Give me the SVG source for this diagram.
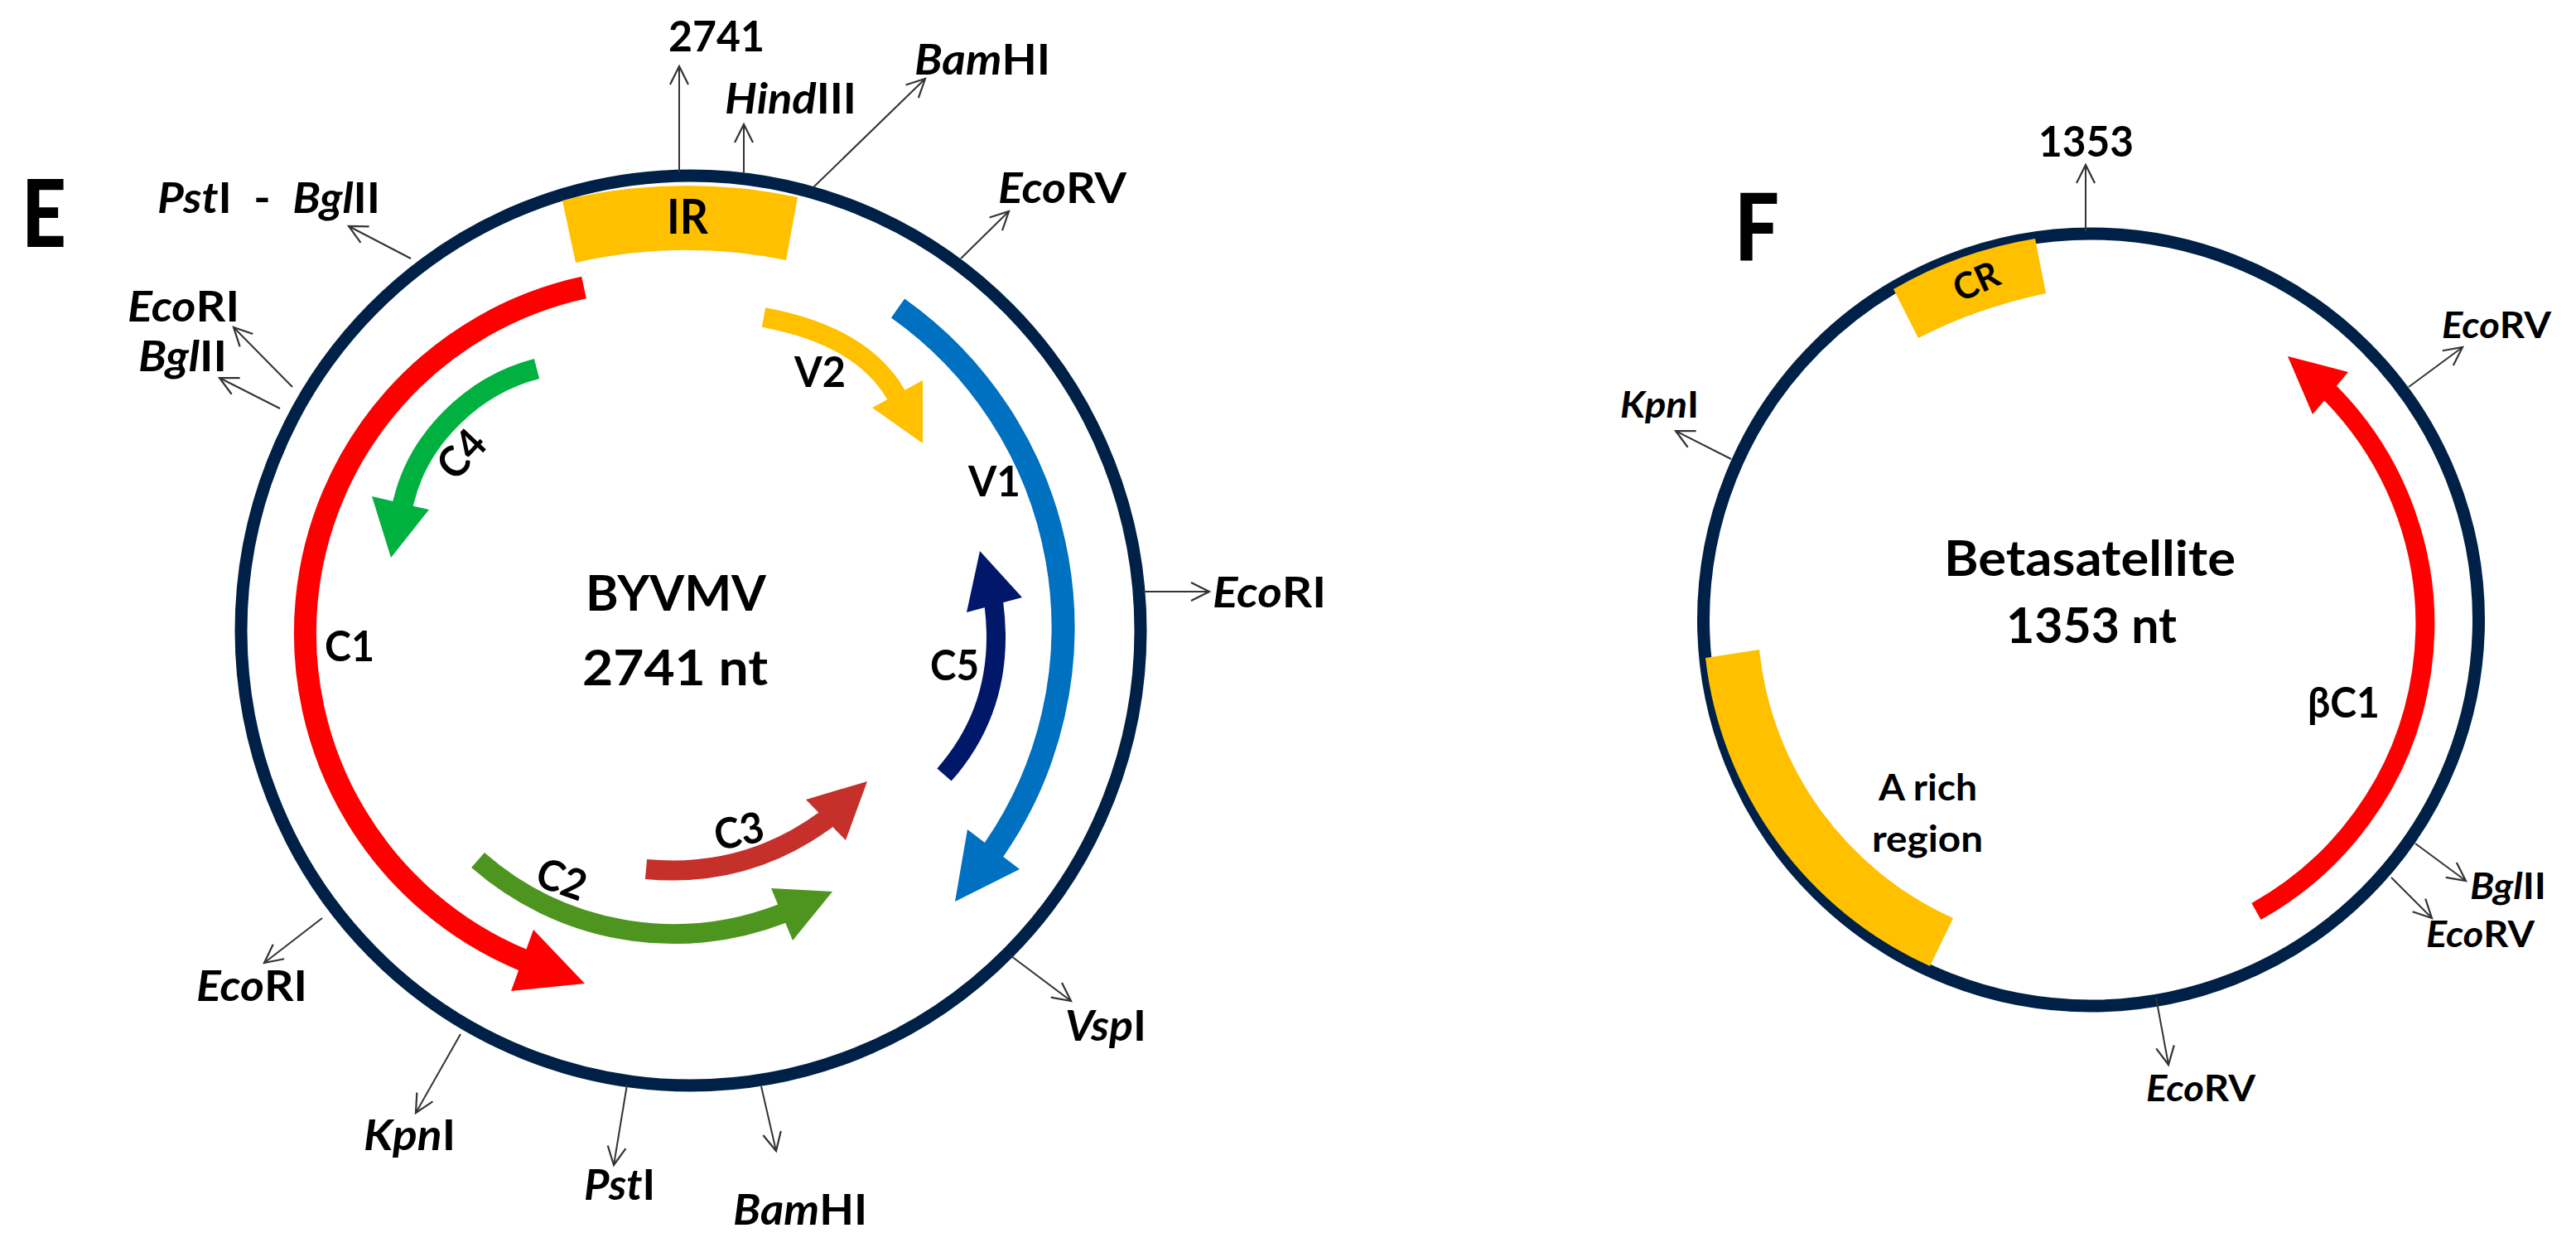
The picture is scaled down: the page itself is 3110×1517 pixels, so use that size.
<svg xmlns="http://www.w3.org/2000/svg" width="3110" height="1517" viewBox="0 0 3110 1517">
<style>
text{font-family:Lato,"Open Sans","Noto Sans",sans-serif;font-weight:700;fill:#000}
.e{font-size:51px}
.f{font-size:44px}
.c{font-size:60px}
.p{font-size:112px;font-weight:900}
.i{font-style:italic}
.ring{fill:none;stroke:#002147;stroke-width:15}
.gene{fill:none;stroke-linecap:butt;stroke-linejoin:round}
.cut{fill:none;stroke:#333;stroke-width:2;marker-end:url(#open)}
</style>
<defs>
<marker id="open" markerUnits="userSpaceOnUse" markerWidth="30" markerHeight="30" refX="24" refY="13" orient="auto">
<path d="M2,2 L24,13 L2,24" fill="none" stroke="#333" stroke-width="2.2"/>
</marker>
</defs>
<rect width="3110" height="1517" fill="#fff"/>

<g id="plasmid-E-backbone"><ellipse class="ring" cx="834" cy="761" rx="543" ry="549"/></g>
<g id="plasmid-F-backbone"><ellipse class="ring" cx="2524.5" cy="748" rx="468" ry="466"/></g>

<g id="connectors">
<path class="cut" d="M820,208 L820,80"/>
<path class="cut" d="M898,208 L898,150"/>
<path class="cut" d="M982,226 L1117,95"/>
<path class="cut" d="M1160,312 L1218,255"/>
<path class="cut" d="M496,312 L421,273"/>
<path class="cut" d="M353,467 L282,395"/>
<path class="cut" d="M338,493 L265,456"/>
<path class="cut" d="M1380,714 L1460,714"/>
<path class="cut" d="M1221,1154 L1293,1208"/>
<path class="cut" d="M919,1311 L937,1389"/>
<path class="cut" d="M757,1309 L741,1406"/>
<path class="cut" d="M556,1248 L502,1343"/>
<path class="cut" d="M389,1108 L319,1162"/>
<path class="cut" d="M2518,280 L2518,199"/>
<path class="cut" d="M2908,467 L2973,419"/>
<path class="cut" d="M2090,554 L2023,520"/>
<path class="cut" d="M2916,1018 L2977,1063"/>
<path class="cut" d="M2887,1059 L2936,1108"/>
<path class="cut" d="M2603,1204 L2618,1285"/>
</g>

<g id="IR"><path d="M679,242 Q820,208 963,238 L949,314 Q822,288 695,317 Z" fill="#FFC000"/><text class="e" style="font-size:58px" x="805" y="282" textLength="50" lengthAdjust="spacingAndGlyphs">IR</text></g>
<g id="C1"><path class="gene" stroke="#FF0000" stroke-width="27" d="M705,347 A427 427 0 0 0 630,1158 L644,1163"/><path fill="#FF0000" d="M644,1122 L706,1187 L617,1196 Z"/><text class="e" x="392" y="798" textLength="60" lengthAdjust="spacingAndGlyphs">C1</text></g>
<g id="V1"><path class="gene" stroke="#0070C0" stroke-width="28" d="M1084,372 A472 472 0 0 1 1201,1024 L1192,1036"/><path fill="#0070C0" d="M1168,1001 L1231,1049 L1153,1088 Z"/><text class="e" x="1169" y="599" textLength="63" lengthAdjust="spacingAndGlyphs">V1</text></g>
<g id="V2"><path class="gene" stroke="#FFC000" stroke-width="24" d="M922,383 Q1040,405 1081,475 L1088,488"/><path fill="#FFC000" d="M1114,459 L1114,535 L1053,492 Z"/><text class="e" x="959" y="467" textLength="62" lengthAdjust="spacingAndGlyphs">V2</text></g>
<g id="C4"><path class="gene" stroke="#00B140" stroke-width="25" d="M648,445 C570,465 505,530 487,606 L484,620"/><path fill="#00B140" d="M449,599 L518,615 L472,673 Z"/><text class="e" transform="translate(557,548) rotate(-47)" x="-30" y="18" textLength="60" lengthAdjust="spacingAndGlyphs">C4</text></g>
<g id="C5"><path class="gene" stroke="#00176A" stroke-width="23" d="M1140,935 Q1215,850 1200,730 L1196,716"/><path fill="#00176A" d="M1183,665 L1234,721 L1167,739 Z"/><text class="e" x="1123" y="821" textLength="59" lengthAdjust="spacingAndGlyphs">C5</text></g>
<g id="C3"><path class="gene" stroke="#C5302B" stroke-width="24" d="M780,1049 Q900,1060 996,990 L1007,979"/><path fill="#C5302B" d="M973,965 L1047,943 L1021,1014 Z"/><text class="e" transform="translate(892,1003) rotate(-12)" x="-30" y="18" textLength="60" lengthAdjust="spacingAndGlyphs">C3</text></g>
<g id="C2"><path class="gene" stroke="#4E9520" stroke-width="24" d="M577,1038 A359 359 0 0 0 943,1103 L957,1097"/><path fill="#4E9520" d="M931,1072 L1005,1076 L957,1135 Z"/><text class="e" transform="translate(678,1061) rotate(20)" x="-30" y="18" textLength="60" lengthAdjust="spacingAndGlyphs">C2</text></g>
<g id="label-E"><text class="p" x="26" y="298" textLength="54" lengthAdjust="spacingAndGlyphs">E</text></g>
<g id="title-E">
<text class="c" x="707" y="737" textLength="218" lengthAdjust="spacingAndGlyphs">BYVMV</text>
<text class="c" x="703" y="827" textLength="224" lengthAdjust="spacingAndGlyphs">2741 nt</text>
</g>
<g id="sites-E">
<text class="e" x="807" y="62" textLength="116" lengthAdjust="spacingAndGlyphs">2741</text>
<text class="e" x="875" y="137" textLength="159" lengthAdjust="spacingAndGlyphs"><tspan class="i">Hind</tspan>III</text>
<text class="e" x="1104" y="90" textLength="164" lengthAdjust="spacingAndGlyphs"><tspan class="i">Bam</tspan>HI</text>
<text class="e" x="1205" y="245" textLength="155" lengthAdjust="spacingAndGlyphs"><tspan class="i">Eco</tspan>RV</text>
<text class="e" x="190" y="257" textLength="269" lengthAdjust="spacingAndGlyphs" xml:space="preserve"><tspan class="i">Pst</tspan>I  -  <tspan class="i">Bgl</tspan>II</text>
<text class="e" x="154" y="388" textLength="135" lengthAdjust="spacingAndGlyphs"><tspan class="i">Eco</tspan>RI</text>
<text class="e" x="167" y="448" textLength="107" lengthAdjust="spacingAndGlyphs"><tspan class="i">Bgl</tspan>II</text>
<text class="e" x="1464" y="733" textLength="137" lengthAdjust="spacingAndGlyphs"><tspan class="i">Eco</tspan>RI</text>
<text class="e" x="237" y="1208" textLength="134" lengthAdjust="spacingAndGlyphs"><tspan class="i">Eco</tspan>RI</text>
<text class="e" x="439" y="1388" textLength="111" lengthAdjust="spacingAndGlyphs"><tspan class="i">Kpn</tspan>I</text>
<text class="e" x="705" y="1448" textLength="86" lengthAdjust="spacingAndGlyphs"><tspan class="i">Pst</tspan>I</text>
<text class="e" x="885" y="1478" textLength="162" lengthAdjust="spacingAndGlyphs"><tspan class="i">Bam</tspan>HI</text>
<text class="e" x="1286" y="1256" textLength="98" lengthAdjust="spacingAndGlyphs"><tspan class="i">Vsp</tspan>I</text>
</g>

<g id="CR"><path d="M2286,349 Q2365,303 2457,288 L2470,354 Q2385,372 2316,408 Z" fill="#FFC000"/><text class="f" transform="translate(2386,340) rotate(-24)" x="-28" y="15" textLength="56" lengthAdjust="spacingAndGlyphs">CR</text></g>
<g id="A-rich-region"><path d="M2059,794 A466 466 0 0 0 2330,1166 L2358,1108 A400 400 0 0 1 2124,784 Z" fill="#FFC000"/>
<text class="f" x="2268" y="966" textLength="119" lengthAdjust="spacingAndGlyphs">A rich</text>
<text class="f" x="2260" y="1028" textLength="134" lengthAdjust="spacingAndGlyphs">region</text></g>
<g id="betaC1"><path class="gene" stroke="#FF0000" stroke-width="23" d="M2724,1100 A397 397 0 0 0 2815,476 L2804,467"/><path fill="#FF0000" d="M2762,430 L2835,449 L2792,500 Z"/><text class="e" x="2786" y="866" textLength="87" lengthAdjust="spacingAndGlyphs">βC1</text></g>
<g id="label-F"><text class="p" x="2094" y="315" textLength="54" lengthAdjust="spacingAndGlyphs">F</text></g>
<g id="title-F">
<text class="c" x="2347" y="695" textLength="352" lengthAdjust="spacingAndGlyphs">Betasatellite</text>
<text class="c" x="2422" y="776" textLength="206" lengthAdjust="spacingAndGlyphs">1353 nt</text>
</g>
<g id="sites-F">
<text class="e" x="2461" y="189" textLength="115" lengthAdjust="spacingAndGlyphs">1353</text>
<text class="f" x="2948" y="408" textLength="132" lengthAdjust="spacingAndGlyphs"><tspan class="i">Eco</tspan>RV</text>
<text class="f" x="1956" y="504" textLength="95" lengthAdjust="spacingAndGlyphs"><tspan class="i">Kpn</tspan>I</text>
<text class="f" x="2982" y="1085" textLength="92" lengthAdjust="spacingAndGlyphs"><tspan class="i">Bgl</tspan>II</text>
<text class="f" x="2929" y="1143" textLength="131" lengthAdjust="spacingAndGlyphs"><tspan class="i">Eco</tspan>RV</text>
<text class="f" x="2591" y="1329" textLength="132" lengthAdjust="spacingAndGlyphs"><tspan class="i">Eco</tspan>RV</text>
</g>
</svg>
